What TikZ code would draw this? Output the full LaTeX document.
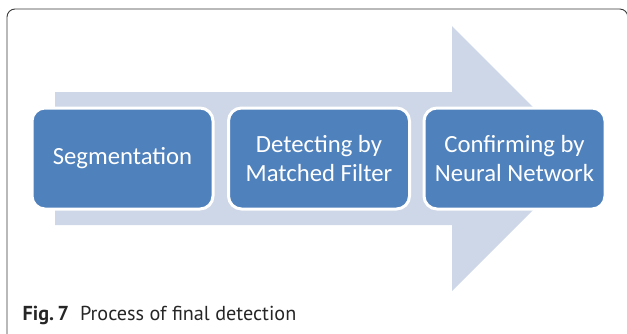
\documentclass[tikz,border=0pt]{standalone}
\usepackage{fontspec}
\setmainfont{Carlito}
\newfontfamily\capfont{PT Sans}
\definecolor{boxblue}{HTML}{4F81BD}
\definecolor{arrowgray}{HTML}{CED7E7}
\definecolor{framegray}{HTML}{3A3A3A}
\begin{document}
\begin{tikzpicture}[x=1pt,y=-1pt,
  stagebox/.style={draw=white, line width=3pt, fill=boxblue, rounded corners=13pt,
    minimum width=181pt, minimum height=101pt, inner sep=0pt, text=white,
    align=center, font=\fontsize{24.7}{29}\selectfont},
]
\useasboundingbox (0,0) rectangle (627,333);
\clip (0,0) rectangle (627,333);
% frame
\draw[framegray, line width=0.9pt, rounded corners=8pt] (7,9) rectangle (627.8,345);
% big arrow
\fill[arrowgray] (55,92) -- (452,92) -- (452,26) -- (584.5,158.5) -- (452,291) -- (452,225) -- (55,225) -- cycle;
% stage boxes
\node[stagebox] (seg) at (122.5,158.5) {Segmentation};
\node[stagebox] (det) at (319,158.5) {Detecting by\\Matched Filter};
\node[stagebox] (con) at (514.5,158.5) {Confirming by\\Neural Network};
% caption
\node[anchor=base west, inner sep=0pt, font=\capfont\fontsize{20.2}{23}\selectfont, text=black!85] (cap) at (22.5,320.5) {\textbf{Fig.\,7}\hspace{11pt}Process of final detection};
\end{tikzpicture}
\end{document}
